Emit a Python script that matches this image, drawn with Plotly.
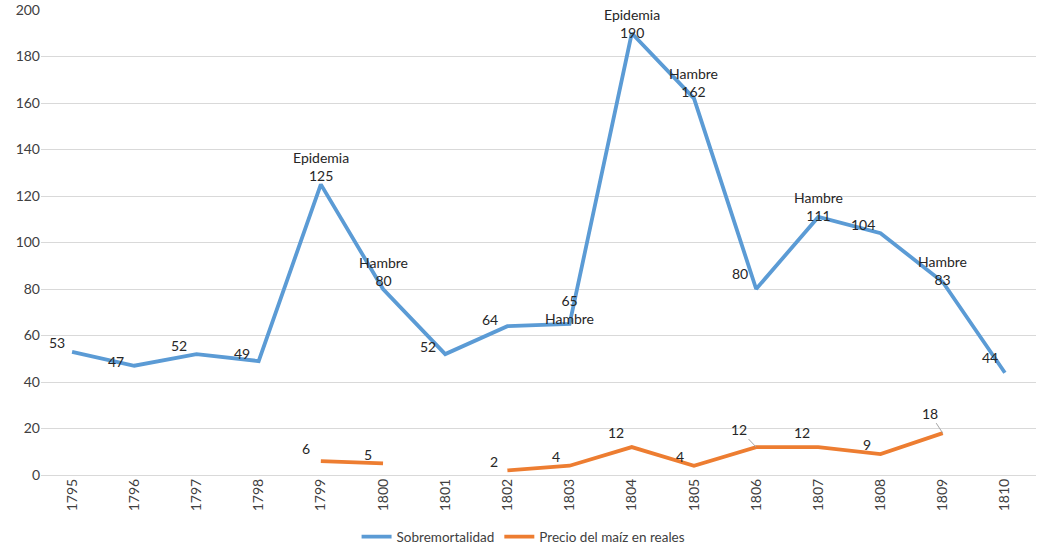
import plotly.graph_objects as go

years = [str(y) for y in range(1795, 1811)]
sobremortalidad = [53, 47, 52, 49, 125, 80, 52, 64, 65, 190, 162, 80, 111, 104, 83, 44]
precio_maiz = [None, None, None, None, 6, 5, None, 2, 4, 12, 4, 12, 12, 9, 18, None]
notas = ["", "", "", "", "Epidemia", "Hambre", "", "", "Hambre", "Epidemia", "Hambre", "", "Hambre", "", "Hambre", ""]

# label offsets in pixels (dx, dy up)
blue_off = [(-15, 9), (-18, 4), (-17, 9), (-17, 8), (0, 18), (0, 18), (-17, 8), (-17, 7),
            (0, 14), (0, 10), (0, 16), (-16, 16), (0, 10), (-18, 9), (0, 12), (-15, 15)]
orange_off = [None, None, None, None, (-15, 13), (-15, 9), None, (-13, 9), (-14, 9),
              (-16, 15), (-14, 9), "arrow", (-16, 15), (-14, 10), "arrow", None]
orange_arrow = {11: (-17, -18), 14: (-13, -20)}

BLUE = "#5B9BD5"
ORANGE = "#ED7D31"
FONT = "Lato"
TXT = "#262626"

idx = list(range(len(years)))

fig = go.Figure()
fig.add_trace(go.Scatter(x=idx, y=sobremortalidad, mode="lines", name="Sobremortalidad",
                         line=dict(color=BLUE, width=3.8)))
fig.add_trace(go.Scatter(x=idx, y=precio_maiz, mode="lines", name="Precio del maíz en reales",
                         line=dict(color=ORANGE, width=3.8), connectgaps=False))

ann = []
for i, v in enumerate(sobremortalidad):
    n = notas[i]
    if n and years[i] == "1803":
        txt = f"{v}<br>{n}"
    elif n:
        txt = f"{n}<br>{v}"
    else:
        txt = str(v)
    dx, dy = blue_off[i]
    ann.append(dict(x=i, y=v, text=txt, showarrow=False, xshift=dx, yshift=dy,
                    font=dict(family=FONT, size=14, color=TXT)))
for i, v in enumerate(precio_maiz):
    if v is None:
        continue
    off = orange_off[i]
    if off == "arrow":
        ax, ay = orange_arrow[i]
        ann.append(dict(x=i, y=v, text=str(v), showarrow=True, ax=ax, ay=ay,
                        arrowhead=0, arrowwidth=1, arrowcolor="#a6a6a6", standoff=0,
                        font=dict(family=FONT, size=14, color=TXT)))
    else:
        dx, dy = off
        ann.append(dict(x=i, y=v, text=str(v), showarrow=False, xshift=dx, yshift=dy,
                        font=dict(family=FONT, size=14, color=TXT)))

fig.update_layout(
    width=1046, height=556,
    margin=dict(l=41, r=10, t=10, b=81, autoexpand=False),
    plot_bgcolor="white", paper_bgcolor="white",
    font=dict(family=FONT, size=14, color="#404040"),
    annotations=ann,
    showlegend=True,
    legend=dict(orientation="h", x=0.485, xanchor="center", y=-0.133, yanchor="middle",
                font=dict(family=FONT, size=13.5, color="#404040"), itemwidth=30),
    xaxis=dict(range=[-0.5, len(years) - 0.5], tickmode="array", tickvals=idx, ticktext=years,
               tickangle=-90, showgrid=False, showline=False, zeroline=False, ticks="",
               automargin=False, tickfont=dict(size=14, color="#404040")),
    yaxis=dict(range=[0, 200], dtick=20, gridcolor="#d9d9d9", gridwidth=1, zeroline=True,
               zerolinecolor="#d9d9d9", zerolinewidth=1, showline=False, ticks="",
               automargin=False, tickfont=dict(size=14, color="#404040")),
)

fig.write_html("out.html", config={"displayModeBar": False},
               post_script="document.body.style.margin='0';")
